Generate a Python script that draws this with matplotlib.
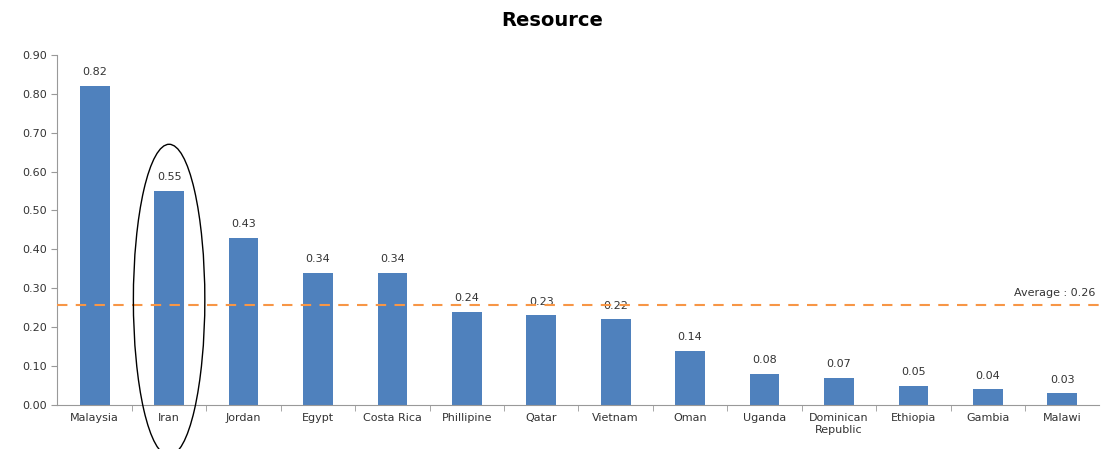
import numpy as np
import matplotlib
matplotlib.use("Agg")
import matplotlib.pyplot as plt
from matplotlib.patches import Ellipse

countries = ["Malaysia", "Iran", "Jordan", "Egypt", "Costa Rica", "Phillipine", "Qatar",
             "Vietnam", "Oman", "Uganda", "Dominican\nRepublic", "Ethiopia", "Gambia", "Malawi"]
values = [0.82, 0.55, 0.43, 0.34, 0.34, 0.24, 0.23, 0.22, 0.14, 0.08, 0.07, 0.05, 0.04, 0.03]
yticks = [0.0, 0.1, 0.2, 0.3, 0.4, 0.5, 0.6, 0.7, 0.8, 0.9]

avg = np.mean(values)
x = np.arange(len(countries))

fig = plt.figure(figsize=(11.05, 4.49), dpi=100)
ax = fig.add_axes([0.052, 0.098, 0.943, 0.78])

ax.bar(x, values, width=0.4, color="#4f81bd", zorder=2)
for xi, v in zip(x, values):
    ax.text(xi, v + 0.022, f"{v:.2f}", ha="center", va="bottom", fontsize=8, color="#333333")

ax.axhline(avg, color="#f79646", ls=(0, (5, 4)), lw=1.5, zorder=3)
ax.text(13.45, avg + 0.02, f"Average : {avg:.2f}", ha="right", va="bottom",
        fontsize=8, color="#333333")

# highlight Iran
ax.add_patch(Ellipse((1, 0.27), 0.96, 0.80, fill=False, ec="black", lw=1.0,
                     clip_on=False, zorder=4))

ax.set_xlim(-0.5, len(countries) - 0.5)
ax.set_ylim(0, 0.9)
ax.set_yticks(yticks)
ax.set_yticklabels([f"{t:.2f}" for t in yticks], fontsize=8, color="#333333")
ax.set_xticks(x)
ax.set_xticklabels(countries, fontsize=8, color="#333333")
ax.set_xticks(np.arange(0.5, len(countries) - 0.5), minor=True)
ax.tick_params(axis="x", which="major", length=0, pad=6)
ax.tick_params(axis="x", which="minor", length=4, color="#999999")
ax.tick_params(axis="y", length=4, color="#999999")

for s in ["top", "right"]:
    ax.spines[s].set_visible(False)
ax.spines["left"].set_color("#999999")
ax.spines["bottom"].set_color("#999999")

fig.suptitle("Resource", y=0.975, fontsize=14, fontweight="bold")
fig.savefig("out.png", dpi=100)
